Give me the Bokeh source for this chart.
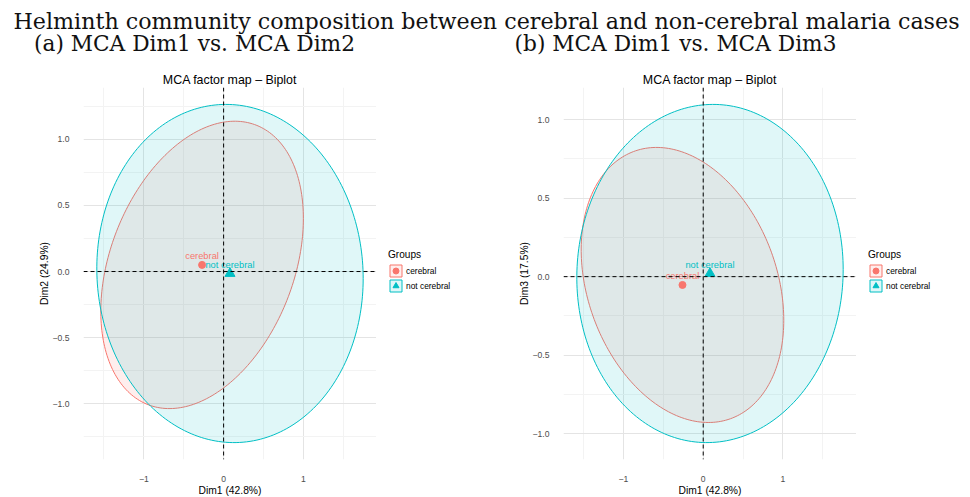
import numpy as np
from bokeh.plotting import figure
from bokeh.models import Range1d, Label, Span, FixedTicker, Legend, LegendItem
from bokeh.layouts import column, row
from bokeh.embed import file_html
from bokeh.resources import INLINE
from bokeh.core.properties import value

# ---------------- data ----------------
main_title = "Helminth community composition between cerebral and non-cerebral malaria cases"
panel_titles = ["(a) MCA Dim1 vs. MCA Dim2", "(b) MCA Dim1 vs. MCA Dim3"]
plot_title = "MCA factor map \u2013 Biplot"
x_label = "Dim1 (42.8%)"
y_labels = ["Dim2 (24.9%)", "Dim3 (17.5%)"]
groups = ["cerebral", "not cerebral"]
legend_title = "Groups"

# panel (a): group means, ellipse half-extents along each axis, correlation
a_mean_x = [-0.27, 0.08]
a_mean_y = [0.05, -0.015]
a_ext_x = [1.27, 1.67]
a_ext_y = [1.086, 1.278]
a_rho = [0.323, -0.03]

# panel (b)
b_mean_x = [-0.26, 0.085]
b_mean_y = [-0.053, 0.02]
b_ext_x = [1.27, 1.67]
b_ext_y = [0.876, 1.077]
b_rho = [-0.256, 0.024]

x_ticks = [-1, 0, 1]
x_tick_labels = ["\u22121", "0", "1"]
x_minor = [-1.5, -0.5, 0.5, 1.5]
y_ticks = [-1.0, -0.5, 0.0, 0.5, 1.0]
y_tick_labels = ["\u22121.0", "\u22120.5", "0.0", "0.5", "1.0"]
y_minor = [-1.25, -0.75, -0.25, 0.25, 0.75, 1.25]

# ---------------- style ----------------
COLORS = ["#F8766D", "#00BFC4"]
MARKERS = ["circle", "triangle"]
SIZES = [7, 10]
SANS = "Liberation Sans"
FIG_H = 431


def ellipse(mx, my, ex, ey, rho, n=240):
    t = np.linspace(0, 2 * np.pi, n)
    xs = mx + ex * np.cos(t)
    ys = my + ey * (rho * np.cos(t) + np.sqrt(1 - rho ** 2) * np.sin(t))
    return xs, ys


def make_panel(mx, my, ex, ey, rho, ylabel, bl):
    outlines = [ellipse(mx[i], my[i], ex[i], ey[i], rho[i]) for i in range(len(groups))]
    allx = np.concatenate([o[0] for o in outlines])
    ally = np.concatenate([o[1] for o in outlines])
    dx = (allx.max() - allx.min()) * 0.05
    dy = (ally.max() - ally.min()) * 0.05
    p = figure(frame_width=293, frame_height=372, output_backend="svg", toolbar_location=None,
               x_range=Range1d(allx.min() - dx, allx.max() + dx),
               y_range=Range1d(ally.min() - dy, ally.max() + dy),
               min_border_left=bl, min_border_right=0, min_border_top=21, min_border_bottom=38,
               title=plot_title)
    p.outline_line_color = None
    p.title.text_font = SANS
    p.title.text_font_size = "12.4px"
    p.title.text_font_style = "normal"
    p.title.align = "center"
    p.title.standoff = 1
    p.title.text_color = "#000000"

    p.xaxis.ticker = FixedTicker(ticks=x_ticks, minor_ticks=x_minor)
    p.yaxis.ticker = FixedTicker(ticks=y_ticks, minor_ticks=y_minor)
    p.xaxis.major_label_overrides = {t: l for t, l in zip(x_ticks, x_tick_labels)}
    p.yaxis.major_label_overrides = {t: l for t, l in zip(y_ticks, y_tick_labels)}
    for ax in (p.xaxis, p.yaxis):
        ax.axis_line_color = None
        ax.major_tick_line_color = None
        ax.minor_tick_line_color = None
        ax.major_tick_out = 0
        ax.major_tick_in = 0
        ax.minor_tick_out = 0
        ax.minor_tick_in = 0
        ax.major_label_text_font = SANS
        ax.major_label_text_font_size = "8.6px"
        ax.major_label_text_color = "#4D4D4D"
        ax.axis_label_text_font = SANS
        ax.axis_label_text_font_size = "10.3px"
        ax.axis_label_text_font_style = "normal"
        ax.axis_label_text_color = "#000000"
        ax.axis_label_standoff = 0
    p.xaxis.major_label_standoff = 16
    p.yaxis.major_label_standoff = 14
    p.xaxis.axis_label = x_label
    p.yaxis.axis_label = ylabel

    for g in (p.xgrid, p.ygrid):
        g.grid_line_color = "#E4E4E4"
        g.grid_line_width = 1
        g.minor_grid_line_color = "#F3F3F3"
        g.minor_grid_line_width = 1

    for i, grp in enumerate(groups):
        xs, ys = outlines[i]
        p.patch(xs, ys, fill_color=COLORS[i], fill_alpha=0.12,
                line_color=COLORS[i], line_width=1)
    for i, grp in enumerate(groups):
        p.scatter(x=[mx[i]], y=[my[i]], marker=MARKERS[i], size=SIZES[i],
                  fill_color=COLORS[i], line_color=COLORS[i])
        p.text(x=[mx[i]], y=[my[i]], text=[grp], text_color=COLORS[i],
               text_font=value(SANS), text_font_size="9.3px",
               text_align="center", text_baseline="middle", y_offset=-9)

    p.add_layout(Span(location=0, dimension="width", line_color="black",
                      line_dash="4 3", line_width=1))
    p.add_layout(Span(location=0, dimension="height", line_color="black",
                      line_dash="4 3", line_width=1))
    return p


def make_legend(width, vx, vy):
    lf = figure(width=width, height=FIG_H, output_backend="svg", toolbar_location=None,
                x_range=Range1d(0, 1), y_range=Range1d(0, 1), min_border=0,
                x_axis_location=None, y_axis_location=None)
    lf.outline_line_color = None
    lf.grid.visible = False
    items = []
    blank = np.array([np.nan])  # legend-only renderers: nothing drawn in the frame
    for i, grp in enumerate(groups):
        pr = lf.patch(x=blank, y=blank, fill_color=COLORS[i], fill_alpha=0.12,
                      line_color=COLORS[i], line_width=1)
        sr = lf.scatter(x=blank, y=blank, marker=MARKERS[i], fill_color=COLORS[i],
                        line_color=COLORS[i])
        items.append(LegendItem(label=grp, renderers=[pr, sr]))
    leg = Legend(items=items, title=legend_title, location=(vx, vy))
    leg.title_text_font = SANS
    leg.title_text_font_size = "10.1px"
    leg.title_text_font_style = "normal"
    leg.title_text_color = "#000000"
    leg.title_standoff = 3
    leg.label_text_font = SANS
    leg.label_text_font_size = "8.4px"
    leg.label_text_color = "#000000"
    leg.glyph_width = 15
    leg.glyph_height = 15
    leg.label_height = 15
    leg.spacing = 0
    leg.padding = 6
    leg.margin = 0
    leg.label_standoff = 3
    leg.border_line_color = None
    leg.background_fill_alpha = 0
    lf.add_layout(leg)
    return lf


# header
HH = 66
h = figure(width=970, height=HH, x_range=Range1d(0, 970), y_range=Range1d(HH, 0),
           output_backend="svg", toolbar_location=None, min_border=0,
           x_axis_location=None, y_axis_location=None)
h.outline_line_color = None
h.grid.visible = False
SERIF = "DejaVu Serif"
h.add_layout(Label(x=486, y=20.5, text=main_title, text_align="center",
                   text_baseline="middle", text_font=SERIF,
                   text_font_size="22.2px", text_color="#111111"))
h.add_layout(Label(x=194, y=42.5, text=panel_titles[0], text_align="center",
                   text_baseline="middle", text_font=SERIF,
                   text_font_size="21.7px", text_color="#111111"))
h.add_layout(Label(x=675, y=42.5, text=panel_titles[1], text_align="center",
                   text_baseline="middle", text_font=SERIF,
                   text_font_size="21.7px", text_color="#111111"))

p1 = make_panel(a_mean_x, a_mean_y, a_ext_x, a_ext_y, a_rho, y_labels[0], 83)
l1 = make_legend(107, 12, 165)
p2 = make_panel(b_mean_x, b_mean_y, b_ext_x, b_ext_y, b_rho, y_labels[1], 80)
l2 = make_legend(114, 12, 165)

layout = column(h, row(p1, l1, p2, l2))
open("out.html", "w").write(file_html(layout, INLINE))
